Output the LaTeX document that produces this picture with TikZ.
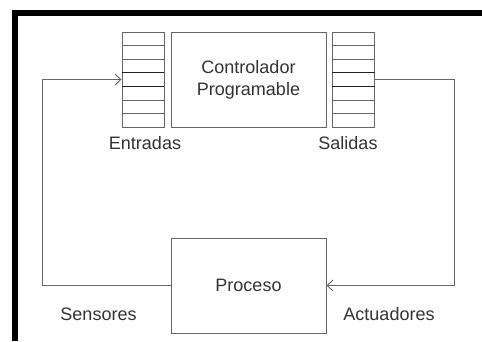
\documentclass[tikz,border=0pt]{standalone}
\usepackage{fontspec}
\setmainfont{Liberation Sans}
\usetikzlibrary{arrows.meta,calc}
\definecolor{linegray}{HTML}{666666}
\definecolor{darkline}{HTML}{222222}
\definecolor{textgray}{HTML}{333333}
\begin{document}
\begin{tikzpicture}[x=1pt,y=-1pt,line width=0.9pt,
  box/.style={draw=linegray,minimum width=155pt,minimum height=95pt,inner sep=0pt},
  regbox/.style={draw=linegray,minimum width=42pt,minimum height=95pt,inner sep=0pt},
  lbl/.style={font=\fontsize{18}{22}\selectfont,text=textgray,align=center},
  conn/.style={draw=linegray,-{Straight Barb[length=6pt,width=11pt,line width=0.9pt]}}]
\useasboundingbox (0,0) rectangle (482,341);
\fill[white] (0,0) rectangle (482,341);
% frame (cropped)
\draw[line width=6pt,line cap=butt] (15,341) -- (15,13) -- (482,13);
% nodes
\node[regbox] (inreg) at (143,79.5) {};
\node[box] (plc) at (248.5,79.5) {};
\node[regbox] (outreg) at (353.5,79.5) {};
\node[box] (proc) at (248.5,285.5) {};
\node[lbl] at (plc.center) {Controlador\\Programable};
\node[lbl] at (proc.center) {Proceso};
% register cells
\foreach \r in {inreg,outreg}{
  \foreach \i in {1,2,5,6}{
    \draw[linegray] ($(\r.north west)!{\i/7}!(\r.south west)$) -- ($(\r.north east)!{\i/7}!(\r.south east)$);
  }
  \foreach \i in {3,4}{
    \draw[darkline] ($(\r.north west)!{\i/7}!(\r.south west)$) -- ($(\r.north east)!{\i/7}!(\r.south east)$);
  }
}
% labels
\node[lbl] (lent) at (145,143) {Entradas};
\node[lbl] (lsal) at (348,143) {Salidas};
\node[lbl] (lsen) at (98.5,314) {Sensores};
\node[lbl] (lact) at (389,314) {Actuadores};
% connectors
\coordinate (lc) at (42,0);
\coordinate (rc) at (454,0);
\draw[conn] (proc.west) -- (proc.west -| lc) -- (inreg.west -| lc) -- (inreg.west);
\draw[conn] (outreg.east) -- (outreg.east -| rc) -- (proc.east -| rc) -- (proc.east);
\end{tikzpicture}
\end{document}
